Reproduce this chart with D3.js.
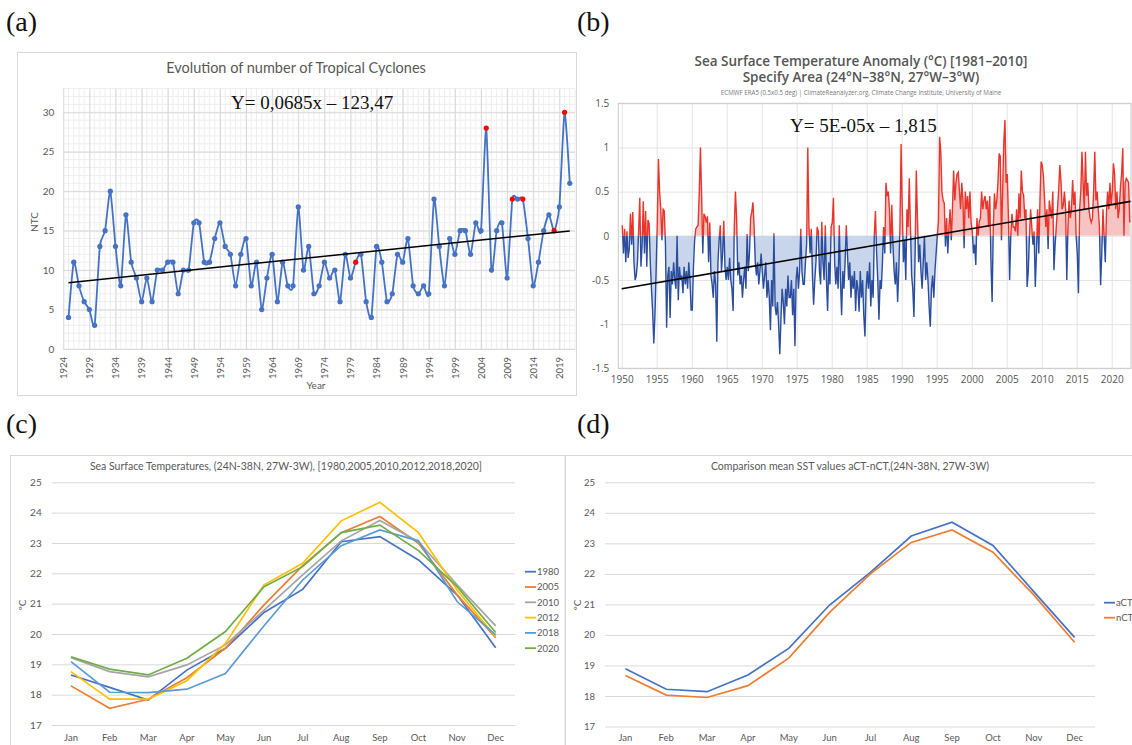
<!DOCTYPE html>
<html><head><meta charset="utf-8">
<script src="https://cdn.jsdelivr.net/npm/d3@7"></script>
<style>
body{margin:0;background:#fff;}
svg{display:block;}
.ax path.domain{display:none;}
</style>
</head><body>
<svg id="chart" width="1132" height="745"></svg>
<script>
// ---------------- DATA ----------------
// (a) number of tropical cyclones per year
const ntcYears = d3.range(1925, 2022);
const ntcValues = [4,11,8,6,5,3,13,15,20,13,8,17,11,9,6,9,6,10,10,11,11,7,10,10,16,16,11,11,14,16,13,12,8,12,14,8,11,5,9,12,6,11,8,8,18,10,13,7,8,11,9,10,6,12,9,11,12,6,4,13,11,6,7,12,11,14,8,7,8,7,19,13,8,14,12,15,15,12,16,15,28,10,15,16,9,19,19,19,14,8,11,15,17,15,18,30,21];
const ntcHighlightYears = [1980, 2005, 2010, 2012, 2018, 2020];
const ntcTrendCoef = [0.0685, -123.47];
const ntcXTicks = d3.range(1924, 2020, 5);
const ntcYTicks = [0,5,10,15,20,25,30];

// (b) SST anomaly, 6 readings per year from 1950
const anomStartYear = 1950;
const anomPerYear = 6;
const anomValues = [
0.12,-0.2,0.08,-0.3,0.05,-0.25,
-0.15,0.25,-0.1,0.27,-0.3,-0.5,
-0.45,-0.3,0.05,0.43,-0.35,-0.1,
0.39,-0.2,0.28,-0.35,0.18,0.14,
-0.3,-0.6,-0.85,-1.22,-0.9,-0.4,
0.15,0.87,0.5,0.3,-0.05,0.3,
0.28,-0.1,-1.04,-0.45,-0.35,-0.93,
-0.4,-0.55,-0.3,-0.5,-0.6,0.0,
-0.73,-0.35,-0.5,-0.45,-0.65,-0.35,
-0.55,-0.4,-0.6,-0.3,-0.5,-0.84,
-0.84,-0.35,-0.05,0.08,0.1,0.12,
0.5,1.0,0.45,-0.2,0.25,0.22,
0.15,0.22,-0.3,0.15,-0.45,-0.55,
-0.7,-0.4,-0.55,-1.2,-0.3,-0.05,
0.12,-0.4,-0.2,0.17,-0.35,-0.5,
-0.35,-0.5,-0.25,-0.5,-0.6,-0.85,
0.1,0.5,0.2,-0.45,-0.3,-0.55,
-0.45,-0.7,-0.5,-0.35,-0.6,0.02,
-0.4,-0.2,0.2,0.27,0.38,0.1,
-0.3,-0.45,-0.3,-0.55,-0.4,-0.2,
-0.4,-0.6,-0.45,-0.3,-0.7,-0.5,
-0.7,-1.07,-0.5,-0.8,0.03,-0.8,
-0.9,-0.75,-1.0,-1.34,-0.95,-0.6,
-0.75,-1.0,-0.6,-0.8,-0.45,-0.7,
-0.7,-0.5,-0.9,-0.6,-1.25,-0.5,
-0.35,-0.6,-0.4,0.08,-0.4,-0.55,
-0.55,-0.3,-0.1,1.0,0.1,-0.2,
0.08,-0.45,-0.78,-0.5,-0.3,0.1,
0.05,-0.4,-0.55,0.16,-0.3,-0.5,
0.12,-0.5,-0.85,-0.3,-0.55,0.1,
0.15,0.43,-0.3,-0.55,-0.35,-0.6,
0.12,-0.5,-0.9,-0.4,-0.6,-0.3,
0.12,-0.2,-0.5,-0.3,-0.7,-0.45,
-0.6,-0.4,-0.85,-0.5,-0.6,-0.86,
-0.4,-0.7,-0.5,-0.9,-1.14,-0.6,
-0.4,-0.6,-0.3,-0.8,-0.5,-0.7,
0.0,0.28,-0.2,-0.5,-0.95,-0.5,
-0.6,-0.3,0.1,-0.2,0.6,0.45,
0.5,0.3,-0.2,0.35,-0.1,-0.4,
-0.55,-0.3,-0.75,-0.4,0.1,1.04,
0.3,-0.3,-0.05,-0.5,0.3,0.1,
0.65,0.1,-0.45,-0.6,-0.92,-0.2,
0.74,0.2,-0.3,-0.1,-0.4,-0.6,
-0.3,0.0,-0.5,-0.3,-0.5,-0.8,
-1.03,-0.6,-0.45,-0.7,-0.4,-0.2,
0.0,0.16,1.12,0.95,0.5,0.4,
0.37,-0.12,0.2,-0.2,0.1,0.3,
-0.05,0.3,0.74,0.4,0.6,0.7,
0.72,0.5,0.3,0.6,0.4,-0.14,
0.5,0.3,0.45,0.2,0.5,0.15,
0.05,-0.2,-0.1,-0.33,0.2,0.0,
0.16,0.2,0.5,0.3,0.4,0.45,
0.3,0.4,0.1,0.45,-0.3,-0.75,
0.1,0.48,0.3,0.4,0.6,0.93,
0.9,-0.05,0.5,1.05,1.31,0.6,
0.7,0.2,-0.5,0.0,0.25,0.1,
0.1,0.05,0.3,0.0,0.48,0.2,
0.74,0.5,0.46,0.2,0.3,-0.58,
-0.4,0.0,0.3,0.1,-0.1,0.05,
-0.58,-0.2,0.3,-0.2,0.4,0.84,
0.8,0.67,0.4,0.1,0.3,-0.15,
0.4,0.3,0.2,0.5,-0.39,-0.1,
0.1,0.3,0.5,0.8,0.63,0.3,
0.35,0.5,0.3,-0.5,0.1,0.4,
0.2,0.3,0.63,0.35,0.5,0.0,
-0.2,-0.65,0.3,0.5,0.95,0.6,
0.3,0.95,0.45,0.6,0.3,0.2,
0.15,0.2,0.5,0.95,0.4,0.5,
0.3,0.1,-0.56,-0.2,0.3,0.0,
-0.3,0.25,0.5,0.3,0.6,0.35,
0.5,0.82,0.7,0.3,0.5,0.2,
0.3,0.55,0.7,0.99,0.0,0.6,
0.65,0.63,0.6,0.15
];
const anomTrend = [[1950, -0.6], [2022.7, 0.39]];
const anomYTicks = [-1.5,-1,-0.5,0,0.5,1,1.5];
const anomXTicks = d3.range(1950, 2021, 5);

// (c) monthly SST per year
const months = ['Jan','Feb','Mar','Apr','May','Jun','Jul','Aug','Sep','Oct','Nov','Dec'];
const sstYears = ['1980','2005','2010','2012','2018','2020'];
const sst1980 = [18.65,18.24,17.82,18.81,19.53,20.71,21.47,23.04,23.21,22.44,21.29,19.55];
const sst2005 = [18.29,17.55,17.85,18.56,19.53,20.96,22.25,23.34,23.87,22.99,21.29,19.88];
const sst2010 = [19.22,18.76,18.59,18.98,19.64,20.79,21.95,23.07,23.74,23.04,21.62,20.27];
const sst2012 = [18.76,17.85,17.85,18.46,19.69,21.62,22.33,23.73,24.34,23.34,21.45,19.91];
const sst2018 = [19.09,18.08,18.07,18.18,18.70,20.27,21.78,22.91,23.43,23.07,21.07,19.97];
const sst2020 = [19.25,18.84,18.65,19.20,20.08,21.56,22.22,23.34,23.59,22.75,21.56,20.05];
const sstColors = ['#4472C4','#ED7D31','#A5A5A5','#FFC000','#5B9BD5','#70AD47'];
const sstYTicks = [17,18,19,20,21,22,23,24,25];

// (d) mean SST aCT vs nCT
const cmpNames = ['aCT','nCT'];
const aCT = [18.89,18.22,18.14,18.69,19.56,20.98,22.05,23.24,23.69,22.93,21.42,19.92];
const nCT = [18.67,18.03,17.95,18.34,19.24,20.74,22.00,23.03,23.44,22.71,21.31,19.76];
const cmpColors = ['#4472C4','#ED7D31'];

// ---------------- DRAWING ----------------
const svg = d3.select('#chart');
const XF = "Lato, 'Open Sans', sans-serif";
const GRAY = '#595959';

function label(t, x, y, size, opts = {}) {
  return svg.append('text').attr('x', x).attr('y', y).text(t)
    .attr('font-family', opts.family || XF).attr('font-size', size)
    .attr('fill', opts.fill || GRAY).attr('text-anchor', opts.anchor || 'start')
    .attr('font-weight', opts.weight || 'normal');
}

// panel letters
const SERIF = "'Liberation Serif', 'Times New Roman', serif";
label('(a)', 6, 31, 28, {family: SERIF, fill: '#111'});
label('(b)', 577, 31, 28, {family: SERIF, fill: '#111'});
label('(c)', 6, 433, 28, {family: SERIF, fill: '#111'});
label('(d)', 577, 433, 28, {family: SERIF, fill: '#111'});

// ======== Panel (a) ========
svg.append('rect').attr('x', 17.5).attr('y', 52.5).attr('width', 559).attr('height', 343)
  .attr('fill', 'none').attr('stroke', '#d9d9d9');
const ax = d3.scaleLinear().domain([1924, 2022]).range([63.3, 575]);
const ay = d3.scaleLinear().domain([0, 33]).range([349, 88.6]);
const gA = svg.append('g');
// minor grid
gA.append('g').selectAll('line').data(d3.range(1924, 2023)).join('line')
  .attr('x1', d => ax(d)).attr('x2', d => ax(d)).attr('y1', ay(0)).attr('y2', ay(33))
  .attr('stroke', '#eeeeee').attr('stroke-width', 1);
gA.append('g').selectAll('line').data(d3.range(0, 34)).join('line')
  .attr('x1', ax(1924)).attr('x2', ax(2022)).attr('y1', d => ay(d)).attr('y2', d => ay(d))
  .attr('stroke', '#eeeeee').attr('stroke-width', 1);
// major grid + labels via axes
const aYAxis = gA.append('g').attr('class', 'ax').attr('transform', `translate(${ax(1924)},0)`)
  .call(d3.axisLeft(ay).tickValues(ntcYTicks).tickSize(-(ax(2022) - ax(1924))).tickPadding(9));
aYAxis.selectAll('line').attr('stroke', '#d9d9d9');
aYAxis.selectAll('text').attr('font-family', XF).attr('font-size', 10).attr('fill', GRAY);
const aXAxis = gA.append('g').attr('class', 'ax').attr('transform', `translate(0,${ay(0)})`)
  .call(d3.axisBottom(ax).tickValues(ntcXTicks).tickFormat(d3.format('d')).tickSize(-(ay(0) - ay(33))));
aXAxis.selectAll('line').attr('stroke', '#d9d9d9');
aXAxis.selectAll('text').attr('font-family', XF).attr('font-size', 9.5).attr('fill', GRAY)
  .attr('transform', 'rotate(-90)').attr('x', -8).attr('y', 0).attr('dy', '0.35em').attr('text-anchor', 'end');
label('Year', 316, 389, 10, {anchor: 'middle'});
svg.append('text').attr('transform', 'translate(38,222) rotate(-90)').attr('text-anchor', 'middle')
  .attr('font-family', XF).attr('font-size', 10).attr('fill', GRAY).text('NTC');
label('Evolution of number of Tropical Cyclones', 296, 73, 14.5, {anchor: 'middle'});

const ntcData = ntcYears.map((y, i) => ({year: y, v: ntcValues[i]}));
gA.append('path').datum(ntcData)
  .attr('d', d3.line().x(d => ax(d.year)).y(d => ay(d.v)).curve(d3.curveCardinal.tension(0.4)))
  .attr('fill', 'none').attr('stroke', '#4472C4').attr('stroke-width', 1.8);
gA.append('g').selectAll('circle').data(ntcData).join('circle')
  .attr('cx', d => ax(d.year)).attr('cy', d => ay(d.v)).attr('r', 2.6)
  .attr('fill', d => ntcHighlightYears.includes(d.year) ? '#FF0000' : '#4472C4');
gA.append('line')
  .attr('x1', ax(ntcYears[0])).attr('y1', ay(ntcTrendCoef[0] * ntcYears[0] + ntcTrendCoef[1]))
  .attr('x2', ax(ntcYears[ntcYears.length - 1])).attr('y2', ay(ntcTrendCoef[0] * ntcYears[ntcYears.length - 1] + ntcTrendCoef[1]))
  .attr('stroke', '#000').attr('stroke-width', 1.5);
label('Y= 0,0685x \u2013 123,47', 231, 109, 19, {family: SERIF, fill: '#111'});

// ======== Panel (b) ========
const bx = d3.scaleLinear().domain([1950, 2022.7]).range([621.7, 1130.6]);
const by = d3.scaleLinear().domain([-1.5, 1.5]).range([368.3, 103.3]);
const bL = 618.3, bR = 1131, bT = by(1.5), bB = by(-1.5);
const gB = svg.append('g');
const bYAxis = gB.append('g').attr('class', 'ax').attr('transform', `translate(${bL},0)`)
  .call(d3.axisLeft(by).tickValues(anomYTicks).tickFormat(d => String(d)).tickSize(-(bR - bL)).tickPadding(9));
bYAxis.selectAll('line').attr('stroke', '#e4e4e4');
bYAxis.selectAll('text').attr('font-family', "'Open Sans', sans-serif").attr('font-size', 10).attr('fill', '#555');
const bXAxis = gB.append('g').attr('class', 'ax').attr('transform', `translate(0,${bB})`)
  .call(d3.axisBottom(bx).tickValues(anomXTicks).tickFormat(d3.format('d')).tickSize(-(bB - bT)).tickPadding(8));
bXAxis.selectAll('line').attr('stroke', '#e4e4e4');
bXAxis.selectAll('text').attr('font-family', "'Open Sans', sans-serif").attr('font-size', 10).attr('fill', '#555');
gB.append('rect').attr('x', bL).attr('y', bT).attr('width', bR - bL).attr('height', bB - bT)
  .attr('fill', 'none').attr('stroke', '#c8c8c8');

const defs = svg.append('defs');
defs.append('clipPath').attr('id', 'clipAbove').append('rect')
  .attr('x', bL).attr('y', bT).attr('width', bR - bL).attr('height', by(0) - bT);
defs.append('clipPath').attr('id', 'clipBelow').append('rect')
  .attr('x', bL).attr('y', by(0)).attr('width', bR - bL).attr('height', bB - by(0));
const anomData = anomValues.map((v, i) => ({t: anomStartYear + (i + 0.5) / anomPerYear, v}));
const bArea = d3.area().x(d => bx(d.t)).y0(by(0)).y1(d => by(d.v));
const bLine = d3.line().x(d => bx(d.t)).y(d => by(d.v));
gB.append('path').datum(anomData).attr('d', bArea).attr('fill', '#f6c5c3').attr('clip-path', 'url(#clipAbove)');
gB.append('path').datum(anomData).attr('d', bArea).attr('fill', '#c8d5ea').attr('clip-path', 'url(#clipBelow)');
gB.append('path').datum(anomData).attr('d', bLine).attr('fill', 'none').attr('stroke', '#e8342b')
  .attr('stroke-width', 1.4).attr('clip-path', 'url(#clipAbove)');
gB.append('path').datum(anomData).attr('d', bLine).attr('fill', 'none').attr('stroke', '#2a4d9e')
  .attr('stroke-width', 1.4).attr('clip-path', 'url(#clipBelow)');
gB.append('path').datum(anomTrend).attr('d', d3.line().x(d => bx(d[0])).y(d => by(d[1])))
  .attr('fill', 'none').attr('stroke', '#000').attr('stroke-width', 1.6);
label('Y= 5E-05x \u2013 1,815', 790, 132, 19, {family: SERIF, fill: '#111'});
const OS = "'Open Sans', sans-serif";
label('Sea Surface Temperature Anomaly (\u00B0C) [1981\u20132010]', 861, 66, 13.5, {family: OS, fill: '#555', anchor: 'middle', weight: 600});
label('Specify Area (24\u00B0N\u201338\u00B0N, 27\u00B0W\u20133\u00B0W)', 861, 82, 13.5, {family: OS, fill: '#555', anchor: 'middle', weight: 600});
label('ECMWF ERA5 (0.5x0.5 deg) | ClimateReanalyzer.org, Climate Change Institute, University of Maine', 861, 95, 6.2, {family: OS, fill: '#777', anchor: 'middle'});

// ======== Panel (c) ========
svg.append('rect').attr('x', 10.5).attr('y', 455.5).attr('width', 554.5).attr('height', 300)
  .attr('fill', 'none').attr('stroke', '#d9d9d9');
const cx = d3.scaleBand().domain(months).range([51.7, 515]);
const cy = d3.scaleLinear().domain([17, 25]).range([725, 482.3]);
const gC = svg.append('g');
const cYAxis = gC.append('g').attr('class', 'ax').attr('transform', 'translate(51.7,0)')
  .call(d3.axisLeft(cy).tickValues(sstYTicks).tickSize(-(515 - 51.7)).tickPadding(10));
cYAxis.selectAll('line').attr('stroke', '#d9d9d9');
cYAxis.selectAll('text').attr('font-family', XF).attr('font-size', 10).attr('fill', GRAY);
const cXAxis = gC.append('g').attr('class', 'ax').attr('transform', 'translate(0,725)')
  .call(d3.axisBottom(cx).tickSize(0).tickPadding(9));
cXAxis.selectAll('text').attr('font-family', XF).attr('font-size', 9.5).attr('fill', GRAY);
svg.append('text').attr('transform', 'translate(26,605) rotate(-90)').attr('text-anchor', 'middle')
  .attr('font-family', XF).attr('font-size', 10).attr('fill', GRAY).text('\u00BAC');
label('Sea Surface Temperatures, (24N-38N, 27W-3W), [1980,2005,2010,2012,2018,2020]', 286, 469.5, 10.5, {anchor: 'middle'});
const sstSeries = [sst1980, sst2005, sst2010, sst2012, sst2018, sst2020];
const cLine = d3.line().x((d, i) => cx(months[i]) + cx.bandwidth() / 2).y(d => cy(d));
sstSeries.forEach((s, k) => {
  gC.append('path').datum(s).attr('d', cLine).attr('fill', 'none')
    .attr('stroke', sstColors[k]).attr('stroke-width', 1.7);
});
const cLeg = gC.append('g').selectAll('g').data(sstYears).join('g')
  .attr('transform', (d, i) => `translate(525,${571.7 + i * 15.3})`);
cLeg.append('line').attr('x1', 0).attr('x2', 11).attr('stroke', (d, i) => sstColors[i]).attr('stroke-width', 1.8);
cLeg.append('text').attr('x', 12).attr('dy', '0.35em').text(d => d)
  .attr('font-family', XF).attr('font-size', 9.5).attr('fill', GRAY);

// ======== Panel (d) ========
svg.append('rect').attr('x', 565.5).attr('y', 455.5).attr('width', 570).attr('height', 300)
  .attr('fill', 'none').attr('stroke', '#d9d9d9');
const dx = d3.scaleBand().domain(months).range([605, 1095]);
const dy = d3.scaleLinear().domain([17, 25]).range([726.5, 482.3]);
const gD = svg.append('g');
const dYAxis = gD.append('g').attr('class', 'ax').attr('transform', 'translate(605,0)')
  .call(d3.axisLeft(dy).tickValues(sstYTicks).tickSize(-(1095 - 605)).tickPadding(10));
dYAxis.selectAll('line').attr('stroke', '#d9d9d9');
dYAxis.selectAll('text').attr('font-family', XF).attr('font-size', 9.5).attr('fill', GRAY);
const dXAxis = gD.append('g').attr('class', 'ax').attr('transform', 'translate(0,726.5)')
  .call(d3.axisBottom(dx).tickSize(0).tickPadding(8));
dXAxis.selectAll('text').attr('font-family', XF).attr('font-size', 9.5).attr('fill', GRAY);
svg.append('text').attr('transform', 'translate(581,605) rotate(-90)').attr('text-anchor', 'middle')
  .attr('font-family', XF).attr('font-size', 10).attr('fill', GRAY).text('\u00BAC');
label('Comparison mean SST values aCT-nCT,(24N-38N, 27W-3W)', 850, 470, 10.5, {anchor: 'middle'});
const dLine = d3.line().x((d, i) => dx(months[i]) + dx.bandwidth() / 2).y(d => dy(d));
[aCT, nCT].forEach((s, k) => {
  gD.append('path').datum(s).attr('d', dLine).attr('fill', 'none')
    .attr('stroke', cmpColors[k]).attr('stroke-width', 1.7);
});
const dLeg = gD.append('g').selectAll('g').data(cmpNames).join('g')
  .attr('transform', (d, i) => `translate(1104,${602.7 + i * 15})`);
dLeg.append('line').attr('x1', 0).attr('x2', 11).attr('stroke', (d, i) => cmpColors[i]).attr('stroke-width', 1.8);
dLeg.append('text').attr('x', 12).attr('dy', '0.35em').text(d => d)
  .attr('font-family', XF).attr('font-size', 9.5).attr('fill', GRAY);
</script>
</body></html>
